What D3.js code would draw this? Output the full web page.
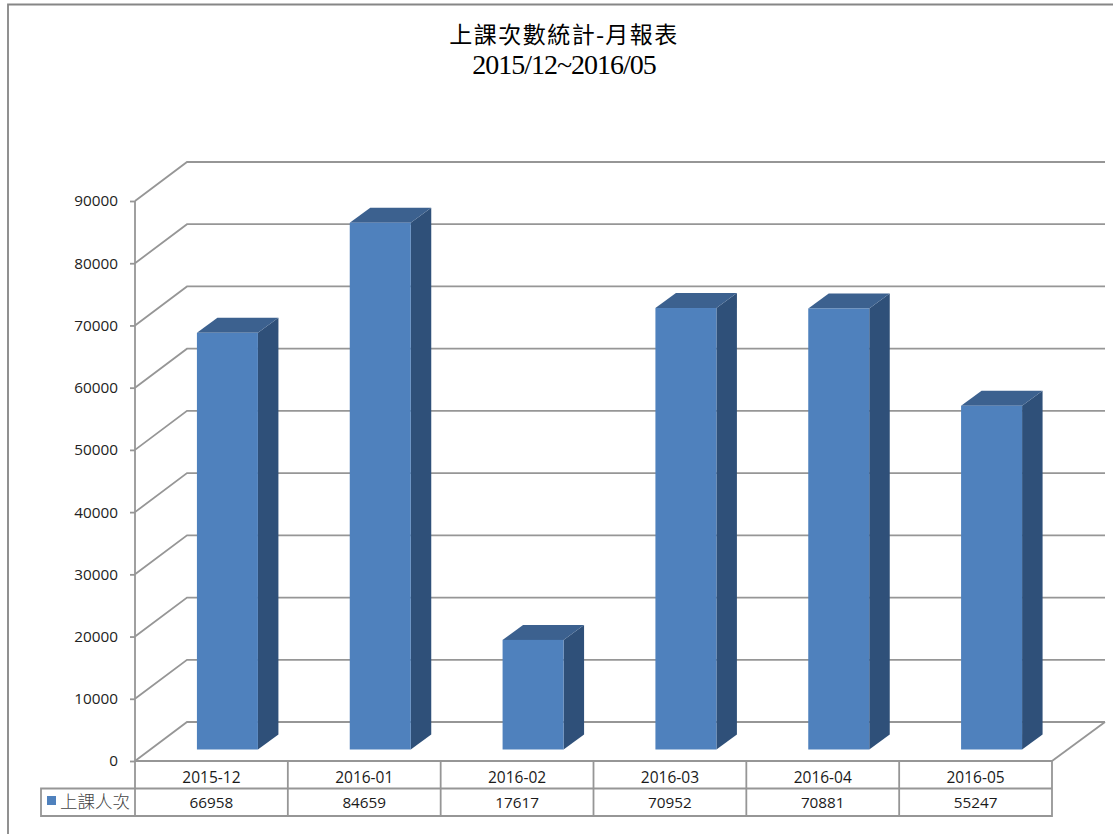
<!DOCTYPE html>
<html>
<head>
<meta charset="utf-8">
<script src="https://cdn.jsdelivr.net/npm/d3@7/dist/d3.min.js"></script>
<style>
html, body { margin: 0; padding: 0; background: #fff; }
svg { display: block; }
text { font-family: "Open Sans", "Liberation Sans", sans-serif; fill: #1a1a1a; }
</style>
</head>
<body>
<div id="chart-area"></div>
<script>
const months = ["2015-12", "2016-01", "2016-02", "2016-03", "2016-04", "2016-05"]
const values = [66958, 84659, 17617, 70952, 70881, 55247]
const yTicks = [0, 10000, 20000, 30000, 40000, 50000, 60000, 70000, 80000, 90000]
const seriesName = "上課人次"
const titleLines = ["上課次數統計-月報表", "2015/12~2016/05"]

const GRID = "#969696"
const FRONT = "#4f81bd", TOP_FACE = "#3c618f", SIDE = "#2f5079"

const svg = d3.select("#chart-area").append("svg")
	.attr("width", 1113)
	.attr("height", 834)

//chart area border, open on the right and bottom
svg.append("path")
	.attr("d", "M8,834V4.5H1113")
	.attr("fill", "none").attr("stroke", "#868686").attr("stroke-width", 1.8)

//title
svg.selectAll(".title").data(titleLines).enter().append("text")
	.attr("class", "title")
	.attr("x", 564)
	.attr("y", (d, i) => 43 + i * 31)
	.attr("text-anchor", "middle")
	.attr("font-size", (d, i) => i ? 28 : 23)
	.attr("letter-spacing", (d, i) => i ? -1 : 1.5)
	.style("font-family", '"Liberation Serif", "Noto Sans CJK TC", serif')
	.style("fill", "#000")
	.text(d => d)

//scales
const y = d3.scaleLinear().domain([0, 90000]).range([761, 201])
const x = d3.scaleBand().domain(months).range([135, 1052])
const WALL = { dx: 52, dy: -39 }     //depth of the back wall
const BAR = { dx: 20.5, dy: -15, off: 16, lift: 11.5, width: 61 }

const grid = svg.append("g").attr("fill", "none").attr("stroke", GRID).attr("stroke-width", 1.8)

//back wall gridlines and the slanted side wall lines
yTicks.forEach(t => {
	const p = d3.path()
	p.moveTo(135, y(t))
	p.lineTo(135 + WALL.dx, y(t) + WALL.dy)
	p.lineTo(1105, y(t) + WALL.dy)
	grid.append("path").attr("d", p.toString())
})
//floor right edge
grid.append("path").attr("d", `M1105,${y(0) + WALL.dy}L1052,${y(0)}`)

//y axis
const yAxis = d3.axisLeft(y).tickValues(yTicks).tickSize(5).tickFormat(d => d)
const yg = svg.append("g").attr("transform", "translate(135,0)").call(yAxis)
yg.selectAll("path, line").attr("stroke", GRID).attr("stroke-width", 1.8)
yg.select(".domain").attr("d", `M0,${y(90000)}V${y(0)}`)
yg.selectAll("text").attr("x", -17).attr("font-size", 15.3).style("font-family", '"Open Sans", sans-serif').style("fill", "#222")

//bars, drawn as three faces
const bars = svg.selectAll(".bar").data(months.map((m, i) => ({ m, v: values[i] }))).enter().append("g").attr("class", "bar")
const barLeft = d => x(d.m) + x.bandwidth() / 2 + BAR.off - BAR.width / 2
const barTop = d => y(d.v) - BAR.lift
const base = y(0) - BAR.lift

bars.append("path").attr("fill", SIDE).attr("d", d => {
	const r = barLeft(d) + BAR.width
	return `M${r},${barTop(d)}L${r + BAR.dx},${barTop(d) + BAR.dy}V${base + BAR.dy}L${r},${base}Z`
})
bars.append("path").attr("fill", TOP_FACE).attr("d", d => {
	const l = barLeft(d), r = l + BAR.width
	return `M${l},${barTop(d)}L${l + BAR.dx},${barTop(d) + BAR.dy}H${r + BAR.dx}L${r},${barTop(d)}Z`
})
bars.append("rect").attr("fill", FRONT)
	.attr("x", barLeft).attr("y", barTop)
	.attr("width", BAR.width).attr("height", d => base - barTop(d))

//data table
const ROW1 = 761, ROW2 = 788.5, ROW3 = 816, KEY = 41
const tbl = svg.append("g").attr("fill", "none").attr("stroke", GRID).attr("stroke-width", 1.8)
tbl.append("path").attr("d", `M135,${ROW1}H1052V${ROW3}H${KEY}V${ROW2}H1052`)
d3.range(months.length).forEach(i => {
	const xx = x.range()[0] + i * x.step()
	tbl.append("path").attr("d", `M${xx},${ROW1}V${ROW3}`)
})
svg.selectAll(".cat").data(months).enter().append("text")
	.attr("x", d => x(d) + x.bandwidth() / 2).attr("y", ROW1 + 21.5)
	.attr("text-anchor", "middle").attr("font-size", 15.5).text(d => d)
svg.selectAll(".val").data(values).enter().append("text")
	.attr("x", (d, i) => x(months[i]) + x.bandwidth() / 2).attr("y", ROW2 + 19.5)
	.attr("text-anchor", "middle").attr("font-size", 15.3).text(d => d)

//legend key
svg.append("rect").attr("x", 47).attr("y", 796).attr("width", 9).attr("height", 9).attr("fill", FRONT)
svg.append("text").attr("x", 60).attr("y", 807.5).attr("font-size", 17.5)
	.style("fill", "#444")
	.style("font-family", '"Noto Sans CJK TC", sans-serif').style("font-weight", 300).text(seriesName)
</script>
</body>
</html>
